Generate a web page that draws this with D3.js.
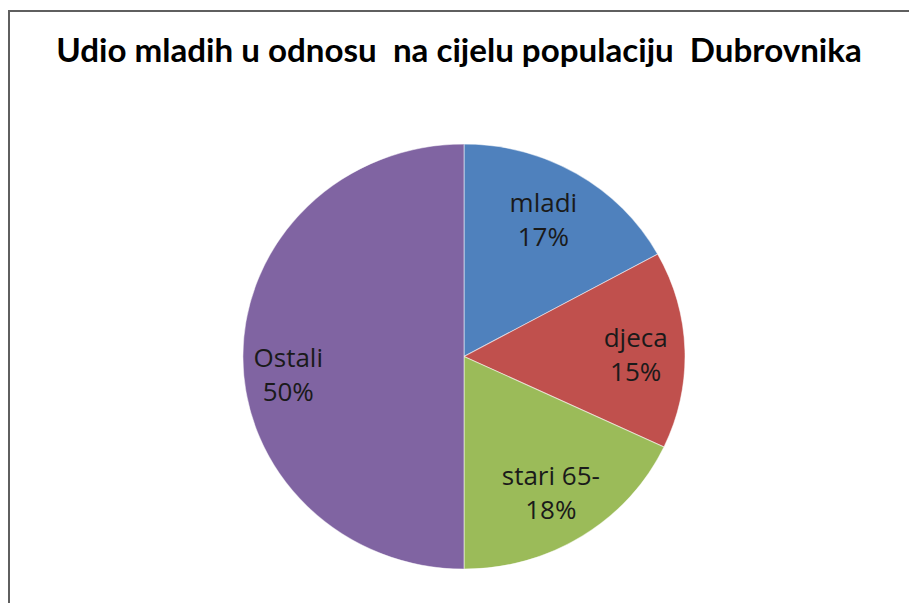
<!DOCTYPE html>
<html>
<head>
<meta charset="utf-8">
<script src="https://cdn.jsdelivr.net/npm/d3@7"></script>
<style>
  body { margin: 0; background: #fff; }
  svg { display: block; }
</style>
</head>
<body>
<div id="main"></div>
<script>
const title = "Udio mladih u odnosu  na cijelu populaciju  Dubrovnika";
const categories = ["mladi", "djeca", "stari 65-", "Ostali"];
const values = [17, 15, 18, 50];
const colors = ["#4F81BD", "#C0504D", "#9BBB59", "#8064A2"];

const W = 909, H = 603;
const cx = 464, cy = 356.5;
const r = 212.5;
const sx = 221 / 212.5; // pie is a bit wider than tall

const svg = d3.select("#main")
  .append("svg")
  .attr("width", W)
  .attr("height", H);

// okvir grafa
svg.append("rect")
  .attr("x", 9)
  .attr("y", 11)
  .attr("width", W + 20)
  .attr("height", H + 20)
  .attr("fill", "none")
  .attr("stroke", "#5f5f5f")
  .attr("stroke-width", 2);

const titleText = svg.append("text")
  .attr("x", 459)
  .attr("y", 62)
  .attr("text-anchor", "middle")
  .attr("font-family", "Lato, sans-serif")
  .attr("font-weight", "bold")
  .attr("font-size", "28px")
  .attr("fill", "#000")
  .style("white-space", "pre")
  .text(title);

// prilagodi sirinu naslova
const tw = titleText.node().getComputedTextLength();
titleText.attr("font-size", (28 * 806 / tw).toFixed(2) + "px");

const data = categories.map((c, i) => ({ name: c, value: values[i], color: colors[i] }));

const pie = d3.pie().sort(null).value(d => d.value);
const arcs = pie(data);

const arc = d3.arc().innerRadius(0).outerRadius(r);
const labelArc = d3.arc().innerRadius(r * 0.75).outerRadius(r * 0.75);

const g = svg.append("g")
  .attr("transform", `translate(${cx},${cy}) scale(${sx},1)`);

g.selectAll("path")
  .data(arcs)
  .join("path")
  .attr("d", arc)
  .attr("fill", d => d.data.color)
  .attr("stroke", "#ffffff")
  .attr("stroke-opacity", 0.5)
  .attr("stroke-width", 1);

// male korekcije polozaja oznaka (kao u Excelu)
const nudge = { "mladi": [-5, 2], "djeca": [6, 5], "stari 65-": [-2, 3], "Ostali": [-10, 19] };

const labels = svg.append("g");
arcs.forEach(d => {
  const c = labelArc.centroid(d);
  const n = nudge[d.data.name];
  const x = cx + c[0] * sx + n[0];
  const y = cy + c[1] + n[1];
  const t = labels.append("text")
    .attr("x", x)
    .attr("y", y - 9)
    .attr("text-anchor", "middle")
    .attr("font-family", "'Open Sans', sans-serif")
    .attr("font-size", "26px")
    .attr("fill", "#1a1a1a");
  t.append("tspan").attr("x", x).text(d.data.name);
  t.append("tspan").attr("x", x).attr("dy", 34).text(Math.round(d.data.value) + "%");
});
</script>
</body>
</html>
